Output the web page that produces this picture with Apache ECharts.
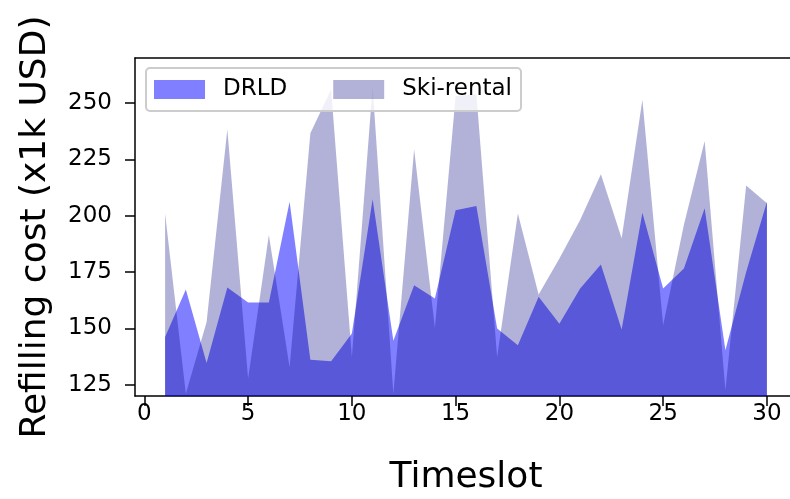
<!DOCTYPE html>
<html>
<head>
<meta charset="utf-8">
<script src="https://cdn.jsdelivr.net/npm/echarts@6/dist/echarts.min.js"></script>
<style>
html,body{margin:0;padding:0;background:#fff;}
#c{width:790px;height:499px;}
</style>
</head>
<body>
<div id="c"></div>
<script>
const timeslots = [1,2,3,4,5,6,7,8,9,10,11,12,13,14,15,16,17,18,19,20,21,22,23,24,25,26,27,28,29,30];
const drld = [146.2,167.3,134.6,168.1,161.5,161.5,206.2,136.1,135.4,147.7,207.3,144.5,169.2,163.3,202.4,204.3,150.0,142.5,164.0,152.1,167.7,178.4,149.5,201.3,167.7,176.6,203.3,140.3,175.0,206.2];
const skiRental = [201.0,121.0,152.8,238.4,127.7,191.4,132.8,236.6,256.0,137.3,257.4,121.0,229.5,150.3,253.0,254.0,137.3,201.0,165.0,181.0,198.1,218.4,190.0,251.5,151.4,196.0,233.2,122.5,213.4,205.5];
const xTicks = [0,5,10,15,20,25,30];
const yTicks = [125,150,175,200,225,250];

const FONT = 'DejaVu Sans';
const chart = echarts.init(document.getElementById('c'), null, {renderer:'canvas'});
const pairs = (ys) => timeslots.map((x,i)=>[x, ys[i]]);

chart.setOption({
  animation:false,
  backgroundColor:'#ffffff',
  grid:{left:135, right:-7, top:58, bottom:103, outerBoundsMode:'none', containLabel:false, show:false},
  legend:{
    left:146, top:68,
    orient:'horizontal',
    icon:'rect',
    itemWidth:51, itemHeight:19,
    itemGap:46,
    padding:[10,9,10,8],
    backgroundColor:'rgba(255,255,255,0.8)',
    borderColor:'#cccccc', borderWidth:2, borderRadius:4,
    textStyle:{fontFamily:FONT, fontSize:23, color:'#000', padding:[0,0,0,13]},
    data:[
      {name:'DRLD', itemStyle:{color:'rgba(0,0,255,0.5)'}},
      {name:'Ski-rental', itemStyle:{color:'rgba(0,0,128,0.3)'}}
    ]
  },
  xAxis:[{
    type:'value', min:-0.45, max:31.45, position:'bottom',
    name:'Timeslot', nameLocation:'middle', nameGap:64,
    nameTextStyle:{fontFamily:FONT, fontSize:36, color:'#000'},
    axisLine:{show:true, onZero:false, lineStyle:{color:'#000', width:1.5}},
    axisTick:{show:true, length:10, lineStyle:{color:'#000', width:1.5}, customValues:xTicks},
    axisLabel:{fontFamily:FONT, fontSize:23, color:'#000', margin:7, customValues:xTicks},
    splitLine:{show:false}
  },{
    type:'value', min:-0.45, max:31.45, position:'top',
    axisLine:{show:true, onZero:false, lineStyle:{color:'#000', width:1.5}},
    axisTick:{show:false}, axisLabel:{show:false}, splitLine:{show:false}
  }],
  yAxis:{
    type:'value', min:120, max:270,
    name:'Refilling cost (x1k USD)', nameLocation:'middle', nameGap:81, nameRotate:90,
    nameTextStyle:{fontFamily:FONT, fontSize:36, color:'#000'},
    axisLine:{show:true, onZero:false, lineStyle:{color:'#000', width:1.5}},
    axisTick:{show:true, length:10, lineStyle:{color:'#000', width:1.5}, customValues:yTicks},
    axisLabel:{fontFamily:FONT, fontSize:23, color:'#000', margin:23, customValues:yTicks},
    splitLine:{show:false}
  },
  series:[
    {name:'DRLD', type:'line', data:pairs(drld), symbol:'none', color:'rgba(0,0,255,0.5)',
     lineStyle:{width:0}, areaStyle:{color:'rgba(0,0,255,0.5)', origin:'start', opacity:1}},
    {name:'Ski-rental', type:'line', data:pairs(skiRental), symbol:'none', color:'rgba(0,0,128,0.3)',
     lineStyle:{width:0}, areaStyle:{color:'rgba(0,0,128,0.3)', origin:'start', opacity:1}}
  ]
});
</script>
</body>
</html>
